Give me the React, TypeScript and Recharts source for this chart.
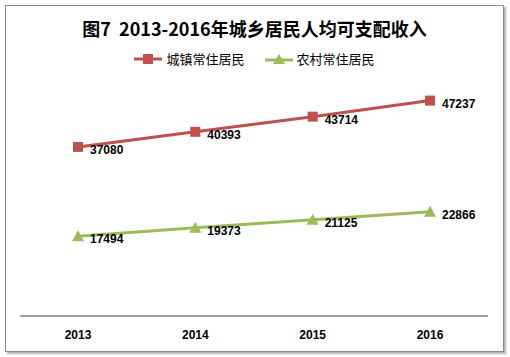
import { LineChart, Line, XAxis, YAxis, LabelList } from 'recharts';

const years = ['2013', '2014', '2015', '2016'];
const urban = [37080, 40393, 43714, 47237];
const rural = [17494, 19373, 21125, 22866];
const seriesNames = ['城镇常住居民', '农村常住居民'];
const title = '图7  2013-2016年城乡居民人均可支配收入';

const RED = '#C0504D';
const GREEN = '#9BBB59';
const CJK = '"Noto Sans CJK SC", "Noto Sans", sans-serif';
const NUM = '"Liberation Sans", Arial, sans-serif';

const data = years.map((year, i) => ({ year, urban: urban[i], rural: rural[i] }));

const SquareDot = (props: any) => {
  const { cx, cy, key } = props;
  if (cx == null || cy == null) return null;
  return <rect key={key} x={cx - 5} y={cy - 5} width={10} height={10} fill={RED} />;
};

const TriangleDot = (props: any) => {
  const { cx, cy, key } = props;
  if (cx == null || cy == null) return null;
  return <path key={key} d={`M${cx},${cy - 6} L${cx + 6},${cy + 5} L${cx - 6},${cy + 5} Z`} fill={GREEN} />;
};

const ValueLabel = (props: any) => {
  const { x, y, value } = props;
  return (
    <text x={x + 12} y={y + 7} fontFamily={NUM} fontSize={12} fontWeight="bold" fill="#000">
      {value}
    </text>
  );
};

const Legend = () => (
  <div style={{ position: 'absolute', left: 0, top: 43, width: '100%', display: 'flex', justifyContent: 'center', fontFamily: CJK, fontSize: 13, color: '#000' }}>
    <div style={{ display: 'flex', alignItems: 'center', marginRight: 20 }}>
      <svg width={30} height={12} style={{ marginRight: 2 }}>
        <line x1={0} y1={6} x2={28} y2={6} stroke={RED} strokeWidth={3} />
        <rect x={9} y={1} width={10} height={10} fill={RED} />
      </svg>
      <span>{seriesNames[0]}</span>
    </div>
    <div style={{ display: 'flex', alignItems: 'center' }}>
      <svg width={30} height={12} style={{ marginRight: 2 }}>
        <line x1={0} y1={7} x2={28} y2={7} stroke={GREEN} strokeWidth={3} />
        <path d="M14,1 L20,11 L8,11 Z" fill={GREEN} />
      </svg>
      <span>{seriesNames[1]}</span>
    </div>
  </div>
);

export default function App() {
  return (
    <div style={{ position: 'absolute', left: 5, top: 5, width: 497, height: 345, border: '1px solid #8c8c8c', boxShadow: '2px 2px 2px #b0b0b0', background: '#fff' }}>
      <style>{'body{margin:0}'}</style>
      <div style={{ position: 'absolute', left: 0, top: 9, width: '100%', textAlign: 'center', whiteSpace: 'pre', fontFamily: CJK, fontWeight: 'bold', fontSize: 18, color: '#000' }}>
        {title}
      </div>
      <Legend />
      <LineChart width={497} height={345} data={data} margin={{ top: 82, right: 15, bottom: 5, left: 14 }}>
        <XAxis
          dataKey="year"
          height={30}
          padding={{ left: 58, right: 58 }}
          axisLine={{ stroke: '#a0a0a0', strokeWidth: 2 }}
          tickLine={false}
          tick={{ fill: '#000', fontSize: 12, fontWeight: 'bold', fontFamily: NUM }}
          tickMargin={8}
        />
        <YAxis hide domain={[0, 50000]} />
        <Line dataKey="urban" stroke={RED} strokeWidth={3} dot={<SquareDot />} isAnimationActive={false}>
          <LabelList dataKey="urban" content={<ValueLabel />} />
        </Line>
        <Line dataKey="rural" stroke={GREEN} strokeWidth={3} dot={<TriangleDot />} isAnimationActive={false}>
          <LabelList dataKey="rural" content={<ValueLabel />} />
        </Line>
      </LineChart>
    </div>
  );
}
